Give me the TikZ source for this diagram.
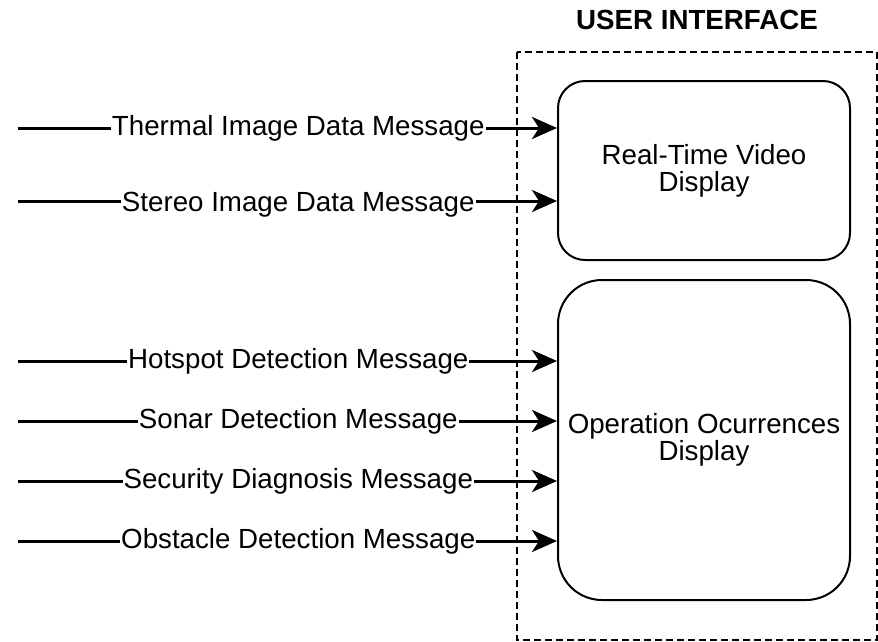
\documentclass[tikz,border=0pt]{standalone}
\usepackage{fontspec}
\setmainfont{Liberation Sans}
\usetikzlibrary{arrows.meta}
\begin{document}
\begin{tikzpicture}[x=1pt,y=-1pt,
		font=\fontsize{27.7}{27}\selectfont,
		box/.style={draw,line width=2pt,align=center,minimum width=292pt},
		msg/.style={line width=3pt,-{Stealth[length=25pt,width=22pt,inset=7pt]}},
		lbl/.style={fill=white,inner sep=1pt,pos=0.52}]
	\useasboundingbox (0,0) rectangle (878,642);
	% Rahmen
	\draw[line width=1.8pt,dash pattern=on 7pt off 4pt] (517,52) rectangle (877,640);
	\node[font=\fontsize{27.7}{32}\selectfont\bfseries] (title) at (697,20) {USER INTERFACE};
	% Anzeigen
	\node[box,minimum height=179pt,rounded corners=27pt] (rtv) at (704,170.5) {Real-Time Video\\Display};
	\node[box,minimum height=320pt,rounded corners=44pt] (ood) at (704,440) {Operation Ocurrences\\Display};
	% Nachrichten
	\coordinate (thermal) at (18,128);
	\coordinate (stereo) at (18,201);
	\coordinate (hotspot) at (18,361);
	\coordinate (sonar) at (18,421);
	\coordinate (security) at (18,481);
	\coordinate (obstacle) at (18,541);
	\draw[msg] (thermal) -- (thermal -| rtv.west) node[lbl] {Thermal Image Data Message};
	\draw[msg] (stereo) -- (stereo -| rtv.west) node[lbl,yshift=-4pt] {Stereo Image Data Message};
	\draw[msg] (hotspot) -- (hotspot -| ood.west) node[lbl] {Hotspot Detection Message};
	\draw[msg] (sonar) -- (sonar -| ood.west) node[lbl] {Sonar Detection Message};
	\draw[msg] (security) -- (security -| ood.west) node[lbl] {Security Diagnosis Message};
	\draw[msg] (obstacle) -- (obstacle -| ood.west) node[lbl] {Obstacle Detection Message};
\end{tikzpicture}
\end{document}
